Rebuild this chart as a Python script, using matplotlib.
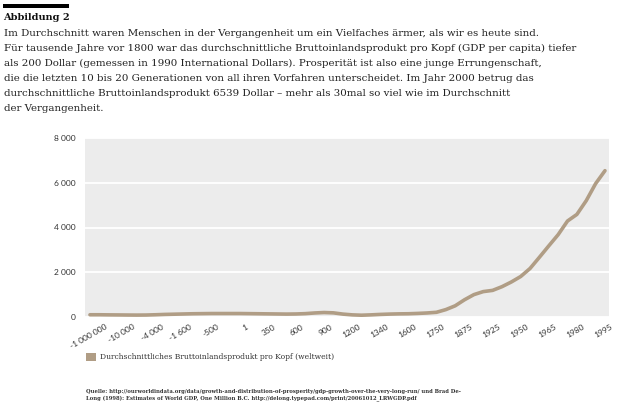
import matplotlib
matplotlib.use("Agg")
import matplotlib.pyplot as plt
from matplotlib.transforms import ScaledTranslation
from matplotlib.patches import Rectangle

years = ["-1000000", "-300000", "-25000", "-10000", "-5000", "-4500", "-4000", "-3000",
         "-2000", "-1600", "-1000", "-800", "-500", "-400", "-200", "1", "14", "200",
         "350", "400", "500", "600", "700", "800", "900", "1000", "1100", "1200", "1250",
         "1300", "1340", "1400", "1500", "1600", "1650", "1700", "1750", "1800", "1850",
         "1875", "1900", "1920", "1925", "1930", "1940", "1950", "1955", "1960", "1965",
         "1970", "1975", "1980", "1985", "1990", "1995", "2000"]
gdp = [100, 100, 95, 92, 88, 85, 88, 100, 115, 125, 135, 145, 150, 155, 155, 155, 155,
       150, 145, 140, 135, 130, 135, 150, 180, 200, 185, 130, 95, 80, 95, 115, 130, 140,
       145, 160, 180, 210, 330, 500, 770, 1000, 1135, 1190, 1355, 1565, 1810, 2170, 2670,
       3180, 3680, 4290, 4585, 5200, 5960, 6539]
tick_labels = ["-1 000 000", "-10 000", "-4 000", "-1 600", "-500", "1", "350", "600",
               "900", "1200", "1340", "1600", "1750", "1875", "1925", "1950", "1965",
               "1980", "1995"]
tick_years = ["-1000000", "-10000", "-4000", "-1600", "-500", "1", "350", "600", "900",
              "1200", "1340", "1600", "1750", "1875", "1925", "1950", "1965", "1980", "1995"]
y_ticks = [0, 2000, 4000, 6000, 8000]
y_tick_labels = ["0", "2 000", "4 000", "6 000", "8 000"]

title = "Abbildung 2"
body = ("Im Durchschnitt waren Menschen in der Vergangenheit um ein Vielfaches ärmer, als wir es heute sind.\n"
        "Für tausende Jahre vor 1800 war das durchschnittliche Bruttoinlandsprodukt pro Kopf (GDP per capita) tiefer\n"
        "als 200 Dollar (gemessen in 1990 International Dollars). Prosperität ist also eine junge Errungenschaft,\n"
        "die die letzten 10 bis 20 Generationen von all ihren Vorfahren unterscheidet. Im Jahr 2000 betrug das\n"
        "durchschnittliche Bruttoinlandsprodukt 6539 Dollar – mehr als 30mal so viel wie im Durchschnitt\n"
        "der Vergangenheit.")
legend_label = "Durchschnittliches Bruttoinlandsprodukt pro Kopf (weltweit)"
source = ("Quelle: http://ourworldindata.org/data/growth-and-distribution-of-prosperity/gdp-growth-over-the-very-long-run/ und Brad De-\n"
          "Long (1998): Estimates of World GDP, One Million B.C. http://delong.typepad.com/print/20061012_LRWGDP.pdf")

LINE = "#b09d85"
W, H = 620, 417
fig = plt.figure(figsize=(W / 100, H / 100), dpi=100)
fig.patch.set_facecolor("white")

def fx(px):
    return px / W

def fy(py):
    return 1 - py / H

# header bar
fig.patches.append(Rectangle((fx(3), fy(7.5)), fx(66), 3.5 / H, transform=fig.transFigure,
                             color="black", lw=0))
fig.text(fx(3.5), fy(17.5), title, fontsize=7.0, fontweight="bold", family="DejaVu Serif",
         va="center", ha="left", color="#111111")
fig.text(fx(4), fy(28.5), body, fontsize=7.4, family="DejaVu Serif", va="top", ha="left",
         color="#222222", linespacing=1.87)

ax = fig.add_axes([fx(85), fy(317), fx(609) - fx(85), (317 - 138) / H])
ax.set_facecolor("#ececec")
x = list(range(len(years)))
ax.plot(x, gdp, color=LINE, lw=2.6, solid_capstyle="round", zorder=3)
ax.set_xlim(-0.53, len(years) - 1 + 0.43)
ax.set_ylim(0, 8000)
ax.set_yticks(y_ticks)
ax.set_yticklabels(y_tick_labels, fontsize=6, family="Lato", color="#333333")
ax.yaxis.grid(True, color="white", lw=1.3)
ax.set_axisbelow(True)
ax.tick_params(axis="y", length=0, pad=7)
ax.tick_params(axis="x", length=0)
ax.set_xticks([])
for s in ax.spines.values():
    s.set_visible(False)

off = ScaledTranslation(15 / 100, -6 / 100, fig.dpi_scale_trans)
for lab, yr in zip(tick_labels, tick_years):
    xi = years.index(yr)
    ax.text(xi, 0, lab, transform=ax.get_xaxis_transform() + off, rotation=30,
            rotation_mode="anchor", ha="right", va="top", fontsize=6, family="Lato",
            color="#333333")

# legend
fig.patches.append(Rectangle((fx(86), fy(361)), fx(10), 8 / H, transform=fig.transFigure,
                             color=LINE, lw=0))
fig.text(fx(100), fy(357), legend_label, fontsize=5.5, family="DejaVu Serif",
         va="center", ha="left", color="#333333")

fig.text(fx(86), fy(388.5), source, fontsize=3.8, family="DejaVu Serif", fontweight="bold",
         va="top", ha="left", color="#333333", linespacing=1.55)

fig.savefig("out.png", dpi=100, facecolor="white")
